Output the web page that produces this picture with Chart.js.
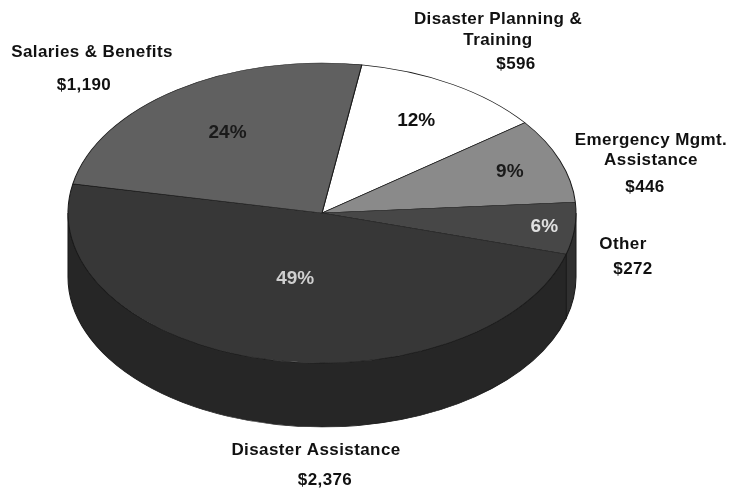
<!DOCTYPE html>
<html>
<head>
<meta charset="utf-8">
<script src="https://cdn.jsdelivr.net/npm/chart.js@4/dist/chart.umd.min.js"></script>
<style>
  html, body { margin: 0; padding: 0; background: #fff; }
  #wrap { width: 730px; height: 492px; position: relative; }
</style>
</head>
<body>
<div id="wrap"><canvas id="pie"></canvas></div>
<script>
// slices, clockwise from the top
const categories = ['Disaster Planning & Training', 'Emergency Mgmt. Assistance', 'Other', 'Disaster Assistance', 'Salaries & Benefits'];
const amounts = [596, 446, 272, 2376, 1190];
const nameLines = [['Disaster Planning &', 'Training'], ['Emergency Mgmt.', 'Assistance'], ['Other'], ['Disaster Assistance'], ['Salaries & Benefits']];

// look of the slices
const topColors = ['#ffffff', '#8a8a8a', '#474747', '#373737', '#606060'];
const sideColors = ['#d0d0d0', '#6a6a6a', '#303030', '#262626', '#444444'];
const pctColors = ['#111111', '#1a1a1a', '#e0e0e0', '#cfcfcf', '#1a1a1a'];
const pctRadius = [0.72, 0.79, 0.88, 0.45, 0.65];

// where the outside labels sit: [x, first line y, line height], [x, y]
const nameAt = [[498, 19, 21], [651, 140, 20], [623, 244, 0], [316, 450, 0], [92, 52, 0]];
const valueAt = [[516, 64], [645, 187], [633, 269], [325, 480], [84, 85]];

// projected ellipse of the pie top
const PIE = { cx: 322, cy: 213, rx: 254, ry: 150, depth: 64 };

const total = amounts.reduce((a, b) => a + b, 0);

function pieTransform(ctx, arc) {
    const sx = PIE.rx / arc.outerRadius;
    const sy = PIE.ry / arc.outerRadius;
    ctx.translate(PIE.cx, PIE.cy);
    ctx.scale(sx, sy);
    ctx.translate(-arc.x, -arc.y);
    return sy;
}

const tiltPlugin = {
    id: 'tilt',
    beforeDatasetsDraw(chart) {
        const ctx = chart.ctx;
        const arcs = chart.getDatasetMeta(0).data;
        ctx.save();
        const sy = pieTransform(ctx, arcs[0]);
        const d = PIE.depth / sy;
        // front walls, angles 0..PI are the near side
        arcs.forEach((arc, i) => {
            for (let k = -1; k <= 1; k++) {
                const lo = Math.max(arc.startAngle, 2 * Math.PI * k);
                const hi = Math.min(arc.endAngle, 2 * Math.PI * k + Math.PI);
                if (hi <= lo) continue;
                ctx.beginPath();
                ctx.arc(arc.x, arc.y, arc.outerRadius, lo, hi);
                ctx.arc(arc.x, arc.y + d, arc.outerRadius, hi, lo, true);
                ctx.closePath();
                ctx.fillStyle = sideColors[i];
                ctx.fill();
                ctx.lineWidth = 1;
                ctx.strokeStyle = '#1a1a1a';
                ctx.stroke();
            }
        });
    },
    afterDatasetsDraw(chart) {
        chart.ctx.restore();
    },
    afterDraw(chart) {
        const ctx = chart.ctx;
        const arcs = chart.getDatasetMeta(0).data;
        ctx.save();
        ctx.textAlign = 'center';
        ctx.textBaseline = 'middle';

        // percentages on the top face
        ctx.font = 'bold 19px "Liberation Sans", Arial, sans-serif';
        arcs.forEach((arc, i) => {
            const mid = (arc.startAngle + arc.endAngle) / 2;
            const x = PIE.cx + Math.cos(mid) * PIE.rx * pctRadius[i];
            const y = PIE.cy + Math.sin(mid) * PIE.ry * pctRadius[i];
            ctx.fillStyle = pctColors[i];
            ctx.fillText(Math.round(amounts[i] / total * 100) + '%', x, y);
        });

        // category names and amounts
        ctx.font = 'bold 17px "Liberation Sans", Arial, sans-serif';
        ctx.letterSpacing = '0.4px';
        ctx.fillStyle = '#111111';
        categories.forEach((c, i) => {
            const [nx, ny, lh] = nameAt[i];
            nameLines[i].forEach((line, j) => ctx.fillText(line, nx, ny + j * lh));
            const [vx, vy] = valueAt[i];
            ctx.fillText('$' + amounts[i].toLocaleString('en-US'), vx, vy);
        });
        ctx.restore();
    }
};

new Chart(document.getElementById('pie'), {
    type: 'pie',
    data: {
        labels: categories,
        datasets: [{
            data: amounts,
            backgroundColor: topColors,
            borderColor: '#1a1a1a',
            borderWidth: 1,
            clip: false
        }]
    },
    options: {
        responsive: true,
        maintainAspectRatio: false,
        animation: false,
        rotation: 9,
        plugins: {
            legend: { display: false },
            tooltip: { enabled: false }
        }
    },
    plugins: [tiltPlugin]
});
</script>
</body>
</html>
